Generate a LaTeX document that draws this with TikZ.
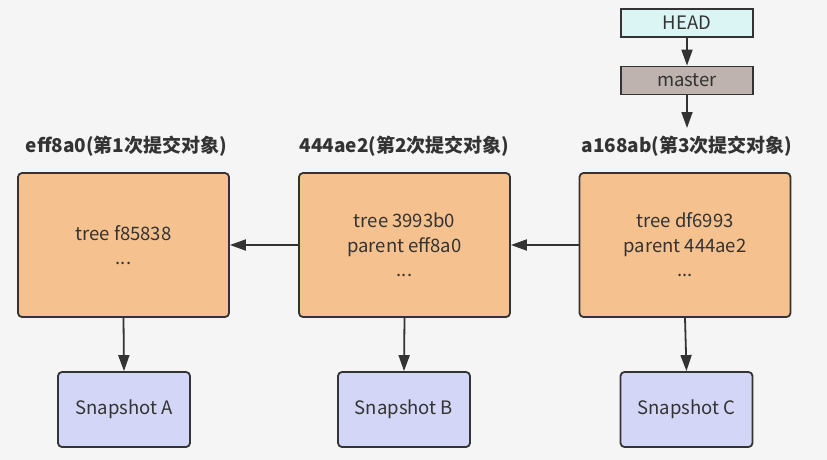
\documentclass[tikz,border=0pt]{standalone}
\usepackage{fontspec}
\setmainfont{Noto Sans CJK SC}
\usetikzlibrary{arrows.meta}
\definecolor{bg}{HTML}{F5F5F5}
\definecolor{edge}{HTML}{333333}
\definecolor{commitfill}{HTML}{F5C18F}
\definecolor{snapfill}{HTML}{D4D6F7}
\definecolor{headfill}{HTML}{DBF5F5}
\definecolor{masterfill}{HTML}{BFB3AF}
\tikzset{
  commitbox/.style={draw=edge, line width=1.8pt, fill=commitfill, rounded corners=4pt, minimum width=211pt, minimum height=144pt, align=center, font=\fontsize{18.5}{24.5}\selectfont, text=edge, inner sep=0pt},
  snapbox/.style={draw=edge, line width=1.8pt, fill=snapfill, rounded corners=4pt, minimum width=132pt, minimum height=75pt, font=\fontsize{18.5}{22}\selectfont, text=edge, inner sep=0pt},
  refbox/.style={draw=edge, line width=1.8pt, minimum width=132pt, minimum height=28pt, font=\fontsize{18.5}{22}\selectfont, text=edge, inner sep=0pt},
  commitlabel/.style={font=\bfseries\fontsize{19}{22}\selectfont, text=edge, inner sep=0pt},
  conn/.style={draw=edge, line width=1.8pt, -{Triangle[length=16pt,width=11pt]}},
}
\begin{document}
\begin{tikzpicture}[x=1pt,y=-1pt]
\fill[bg] (0,0) rectangle (827,460);
\useasboundingbox (0,0) rectangle (827,460);
\node[commitbox] (c1) at (123.5,245) {tree f85838\\...};
\node[commitbox] (c2) at (404.5,245) {tree 3993b0\\parent eff8a0\\...};
\node[commitbox] (c3) at (685,245) {tree df6993\\parent 444ae2\\...};
\node[snapbox] (s1) at (124,409.5) {Snapshot A};
\node[snapbox] (s2) at (404,409.5) {Snapshot B};
\node[snapbox] (s3) at (686.5,409.5) {Snapshot C};
\node[refbox, fill=headfill] (head) at (687,23) {HEAD};
\node[refbox, fill=masterfill] (master) at (687,80.5) {master};
\node[commitlabel] (l1) at (126.5,146) {eff8a0(第1次提交对象)};
\node[commitlabel] (l2) at (404.5,146) {444ae2(第2次提交对象)};
\node[commitlabel] (l3) at (687,146) {a168ab(第3次提交对象)};
\coordinate (mtip) at (687,128);
\draw[conn] (c2.west) -- (c1.east);
\draw[conn] (c3.west) -- (c2.east);
\draw[conn] (c1.south) -- (s1.north);
\draw[conn] (c2.south) -- (s2.north);
\draw[conn] (c3.south) -- (s3.north);
\draw[conn] (head.south) -- (master.north);
\draw[conn] (master.south) -- (mtip);
\end{tikzpicture}
\end{document}
